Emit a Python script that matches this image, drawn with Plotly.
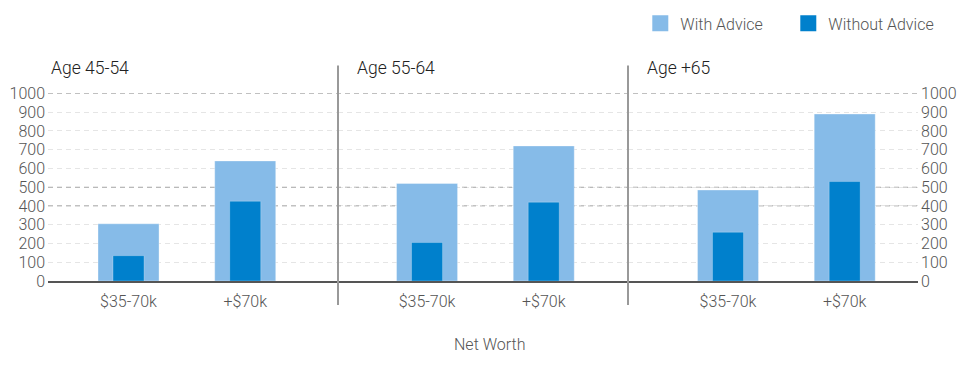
import plotly.graph_objects as go

# ---- data ----
age_groups = ["Age 45-54", "Age 55-64", "Age +65"]
net_worth_bands = ["$35-70k", "+$70k"]
with_advice = [[305, 640], [520, 720], [485, 890]]
without_advice = [[135, 425], [205, 420], [260, 530]]
y_ticks = [0, 100, 200, 300, 400, 500, 600, 700, 800, 900, 1000]
strong_grid = [400, 500, 1000]

LIGHT = "#86BBE8"
DARK = "#0080CC"
FONT = "Roboto"
W = 300

fig = go.Figure()

xaxes = ["x", "x2", "x3"]
ranges = [[-0.69, 1.795], [-0.763, 1.722], [-0.857, 1.628]]

for i, g in enumerate(age_groups):
    xa = xaxes[i]
    fig.add_trace(go.Bar(
        x=net_worth_bands, y=with_advice[i], xaxis=xa, yaxis="y",
        width=0.523, marker=dict(color=LIGHT, line=dict(color="rgba(255,255,255,0.35)", width=1)),
        name="With Advice", showlegend=False, hoverinfo="x+y+name"))
    fig.add_trace(go.Bar(
        x=net_worth_bands, y=without_advice[i], xaxis=xa, yaxis="y",
        width=0.266, marker=dict(color=DARK, line=dict(color="rgba(255,255,255,0.25)", width=1)),
        name="Without Advice", showlegend=False, hoverinfo="x+y+name"))

# legend entries (square swatches)
for nm, col in [("With Advice", LIGHT), ("Without Advice", DARK)]:
    fig.add_trace(go.Scatter(x=[None], y=[None], mode="markers", name=nm,
                             marker=dict(symbol="square", size=16, color=col),
                             xaxis="x", yaxis="y"))

tickfont = dict(family=FONT, size=16, color="#555", weight=W)
dom = [[0, 1/3], [1/3, 2/3], [2/3, 1]]
axis_common = dict(showgrid=False, zeroline=False, showline=True, linecolor="#555",
                   linewidth=1.5, ticks="", tickfont=tickfont, ticklabelstandoff=5,
                   type="category", fixedrange=True, automargin=False)
layout_axes = {}
for i in range(3):
    key = "xaxis" if i == 0 else f"xaxis{i+1}"
    layout_axes[key] = dict(domain=dom[i], range=ranges[i], anchor="y", **axis_common)

grid_dash = "5px,4px"
fig.update_layout(
    **layout_axes,
    yaxis=dict(range=[0, 1002], tickvals=y_ticks, showgrid=True, gridcolor="rgba(0,0,0,0.1)",
               griddash=grid_dash, gridwidth=1, zeroline=False, showline=False, ticks="",
               tickfont=tickfont, anchor="x", side="left",
               ticklabelstandoff=2, automargin=False),
    yaxis2=dict(range=[0, 1002], tickvals=y_ticks, showgrid=False, zeroline=False,
                overlaying="y", anchor="x3", side="right", ticks="", showline=False,
                tickfont=tickfont, ticklabelstandoff=2, automargin=False),
    barmode="overlay",
    width=954, height=350,
    margin=dict(l=40, r=44, t=85, b=77, autoexpand=False),
    paper_bgcolor="white", plot_bgcolor="rgba(0,0,0,0)",
    font=dict(family=FONT, size=16, color="#555", weight=W),
    legend=dict(orientation="h", x=0.6808, xanchor="left", y=1.37, yanchor="middle",
                entrywidth=103, entrywidthmode="pixels",
                font=dict(family=FONT, size=16, color="#555", weight=W), itemclick=False),
)

# dummy trace on right axis so it renders
fig.add_trace(go.Scatter(x=[None], y=[None], xaxis="x3", yaxis="y2", showlegend=False,
                         hoverinfo="skip"))

# stronger dashed gridlines
for v in strong_grid:
    fig.add_shape(type="line", xref="paper", x0=0, x1=1, yref="y", y0=v, y1=v,
                  line=dict(color="#b8b8b8", width=1, dash=grid_dash), layer="below")

# group separators
for xs in [1/3, 2/3]:
    fig.add_shape(type="line", xref="paper", x0=xs, x1=xs, yref="paper", y0=-0.128, y1=1.146,
                  line=dict(color="#999", width=2), layer="above")

# group titles
title_x = [0.001, 0.3529, 0.686]
for tx, g in zip(title_x, age_groups):
    fig.add_annotation(text=g, xref="paper", yref="paper", x=tx, y=1.135, xanchor="left",
                       yanchor="middle", showarrow=False,
                       font=dict(family=FONT, size=17.5, color="#222", weight=W))

fig.add_annotation(text="Net Worth", xref="paper", yref="paper", x=0.508, y=-0.336,
                   xanchor="center", yanchor="middle", showarrow=False,
                   font=dict(family=FONT, size=16, color="#555", weight=W))

fig.write_html("out.html")
